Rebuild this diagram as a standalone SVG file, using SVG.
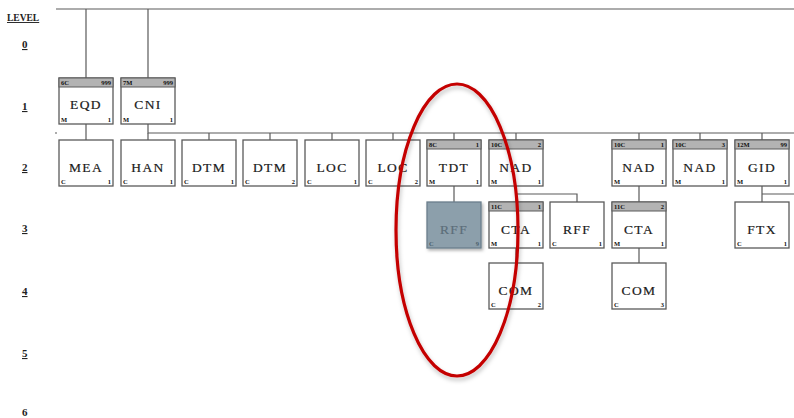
<svg xmlns="http://www.w3.org/2000/svg" width="794" height="418" viewBox="0 0 794 418">
<defs>
<style>
.bx{fill:#fff;stroke:#5a5a5a;stroke-width:1.3}
.hd{fill:#b3b3b3;stroke:#5a5a5a;stroke-width:1}
.t{font-family:"Liberation Serif",serif;font-size:13.5px;letter-spacing:1.4px;fill:#1a1a1a;stroke:#1a1a1a;stroke-width:0.2;text-anchor:middle}
.s{font-family:"Liberation Serif",serif;font-size:6.5px;font-weight:bold;fill:#111}
.r{text-anchor:end}
.lv{font-family:"Liberation Serif",serif;font-size:11px;font-weight:bold;fill:#222;text-decoration:underline}
.ln{fill:none;stroke:#5a5a5a;stroke-width:1.2}
.gb{fill:#8c9fab;stroke:#6b7f8c;stroke-width:1.3}
.gt{fill:#5c6e7a;stroke:#5c6e7a}
.gs{fill:#4d5f6b}
</style>
<filter id="sh" x="-20%" y="-20%" width="150%" height="150%">
<feDropShadow dx="1.5" dy="2" stdDeviation="1.5" flood-color="#000" flood-opacity="0.3"/>
</filter>
<filter id="esh" x="-20%" y="-10%" width="140%" height="130%">
<feDropShadow dx="1" dy="3" stdDeviation="2" flood-color="#000" flood-opacity="0.25"/>
</filter>
</defs>
<rect width="794" height="418" fill="#fff"/>

<g id="levels">
<text class="lv" x="7" y="21" style="font-size:9.5px">LEVEL</text>
<text class="lv" x="22" y="48">0</text>
<text class="lv" x="22" y="110">1</text>
<text class="lv" x="22" y="171">2</text>
<text class="lv" x="22" y="232">3</text>
<text class="lv" x="22" y="295">4</text>
<text class="lv" x="22" y="357">5</text>
<text class="lv" x="22" y="416" style="text-decoration:none">6</text>
</g>

<g id="connectors" class="ln">
<path d="M56 9H794"/>
<path d="M86 9V78M148 9V78"/>
<path d="M86 124V140"/>
<path d="M148 124V133H794"/>
<path d="M55 133H57"/>
<path d="M148 133V140M209 133V140M270 133V140M332 133V140M393 133V140M454 133V140M516 133V140M639 133V140M700 133V140M762 133V140"/>
<path d="M454 186V202"/>
<path d="M516 186V202M516 194H577V202"/>
<path d="M516 248V263"/>
<path d="M639 186V202M639 248V263"/>
<path d="M762 186V202M762 194H794"/>
</g>

<g id="EQD">
<rect class="bx" x="59" y="78" width="54" height="46"/><rect class="hd" x="59" y="78" width="54" height="9"/>
<text class="s" x="61" y="85">6C</text><text class="s r" x="111" y="85">999</text>
<text class="t" x="86" y="109">EQD</text>
<text class="s" x="61" y="122">M</text><text class="s r" x="111" y="122">1</text>
</g>
<g id="CNI">
<rect class="bx" x="121" y="78" width="54" height="46"/><rect class="hd" x="121" y="78" width="54" height="9"/>
<text class="s" x="123" y="85">7M</text><text class="s r" x="173" y="85">999</text>
<text class="t" x="148" y="109">CNI</text>
<text class="s" x="123" y="122">M</text><text class="s r" x="173" y="122">1</text>
</g>

<g id="MEA">
<rect class="bx" x="59" y="140" width="54" height="46"/>
<text class="t" x="86" y="172">MEA</text>
<text class="s" x="61" y="184">C</text><text class="s r" x="111" y="184">1</text>
</g>
<g id="HAN">
<rect class="bx" x="121" y="140" width="54" height="46"/>
<text class="t" x="148" y="172">HAN</text>
<text class="s" x="123" y="184">C</text><text class="s r" x="173" y="184">1</text>
</g>
<g id="DTM1">
<rect class="bx" x="182" y="140" width="54" height="46"/>
<text class="t" x="209" y="172">DTM</text>
<text class="s" x="184" y="184">C</text><text class="s r" x="234" y="184">1</text>
</g>
<g id="DTM2">
<rect class="bx" x="243" y="140" width="54" height="46"/>
<text class="t" x="270" y="172">DTM</text>
<text class="s" x="245" y="184">C</text><text class="s r" x="295" y="184">2</text>
</g>
<g id="LOC1">
<rect class="bx" x="305" y="140" width="54" height="46"/>
<text class="t" x="332" y="172">LOC</text>
<text class="s" x="307" y="184">C</text><text class="s r" x="357" y="184">1</text>
</g>
<g id="LOC2">
<rect class="bx" x="366" y="140" width="54" height="46"/>
<text class="t" x="393" y="172">LOC</text>
<text class="s" x="368" y="184">C</text><text class="s r" x="418" y="184">2</text>
</g>
<g id="TDT">
<rect class="bx" x="427" y="140" width="54" height="46"/><rect class="hd" x="427" y="140" width="54" height="9"/>
<text class="s" x="429" y="147">8C</text><text class="s r" x="479" y="147">1</text>
<text class="t" x="454" y="172">TDT</text>
<text class="s" x="429" y="184">M</text><text class="s r" x="479" y="184">1</text>
</g>
<g id="NAD1">
<rect class="bx" x="489" y="140" width="54" height="46"/><rect class="hd" x="489" y="140" width="54" height="9"/>
<text class="s" x="491" y="147">10C</text><text class="s r" x="541" y="147">2</text>
<text class="t" x="516" y="172">NAD</text>
<text class="s" x="491" y="184">M</text><text class="s r" x="541" y="184">1</text>
</g>
<g id="NAD2">
<rect class="bx" x="612" y="140" width="54" height="46"/><rect class="hd" x="612" y="140" width="54" height="9"/>
<text class="s" x="614" y="147">10C</text><text class="s r" x="664" y="147">1</text>
<text class="t" x="639" y="172">NAD</text>
<text class="s" x="614" y="184">M</text><text class="s r" x="664" y="184">1</text>
</g>
<g id="NAD3">
<rect class="bx" x="673" y="140" width="54" height="46"/><rect class="hd" x="673" y="140" width="54" height="9"/>
<text class="s" x="675" y="147">10C</text><text class="s r" x="725" y="147">3</text>
<text class="t" x="700" y="172">NAD</text>
<text class="s" x="675" y="184">M</text><text class="s r" x="725" y="184">1</text>
</g>
<g id="GID">
<rect class="bx" x="735" y="140" width="54" height="46"/><rect class="hd" x="735" y="140" width="54" height="9"/>
<text class="s" x="737" y="147">12M</text><text class="s r" x="787" y="147">99</text>
<text class="t" x="762" y="172">GID</text>
<text class="s" x="737" y="184">M</text><text class="s r" x="787" y="184">1</text>
</g>

<g id="RFF1">
<rect class="gb" x="427" y="202" width="54" height="46" filter="url(#sh)"/>
<text class="t gt" x="454" y="234">RFF</text>
<text class="s gs" x="429" y="246">C</text><text class="s r gs" x="479" y="246">9</text>
</g>
<g id="CTA1">
<rect class="bx" x="489" y="202" width="54" height="46"/><rect class="hd" x="489" y="202" width="54" height="9"/>
<text class="s" x="491" y="209">11C</text><text class="s r" x="541" y="209">1</text>
<text class="t" x="516" y="234">CTA</text>
<text class="s" x="491" y="246">M</text><text class="s r" x="541" y="246">1</text>
</g>
<g id="RFF2">
<rect class="bx" x="550" y="202" width="54" height="46"/>
<text class="t" x="577" y="234">RFF</text>
<text class="s" x="552" y="246">C</text><text class="s r" x="602" y="246">1</text>
</g>
<g id="CTA2">
<rect class="bx" x="612" y="202" width="54" height="46"/><rect class="hd" x="612" y="202" width="54" height="9"/>
<text class="s" x="614" y="209">11C</text><text class="s r" x="664" y="209">2</text>
<text class="t" x="639" y="234">CTA</text>
<text class="s" x="614" y="246">M</text><text class="s r" x="664" y="246">1</text>
</g>
<g id="FTX">
<rect class="bx" x="735" y="202" width="54" height="46"/>
<text class="t" x="762" y="234">FTX</text>
<text class="s" x="737" y="246">C</text><text class="s r" x="787" y="246">1</text>
</g>

<g id="COM1">
<rect class="bx" x="489" y="263" width="54" height="46"/>
<text class="t" x="516" y="295">COM</text>
<text class="s" x="491" y="307">C</text><text class="s r" x="541" y="307">2</text>
</g>
<g id="COM2">
<rect class="bx" x="612" y="263" width="54" height="46"/>
<text class="t" x="639" y="295">COM</text>
<text class="s" x="614" y="307">C</text><text class="s r" x="664" y="307">3</text>
</g>

<g id="highlight">
<ellipse cx="457" cy="230" rx="61" ry="146" fill="none" stroke="#c40000" stroke-width="3.2" filter="url(#esh)"/>
</g>
</svg>
